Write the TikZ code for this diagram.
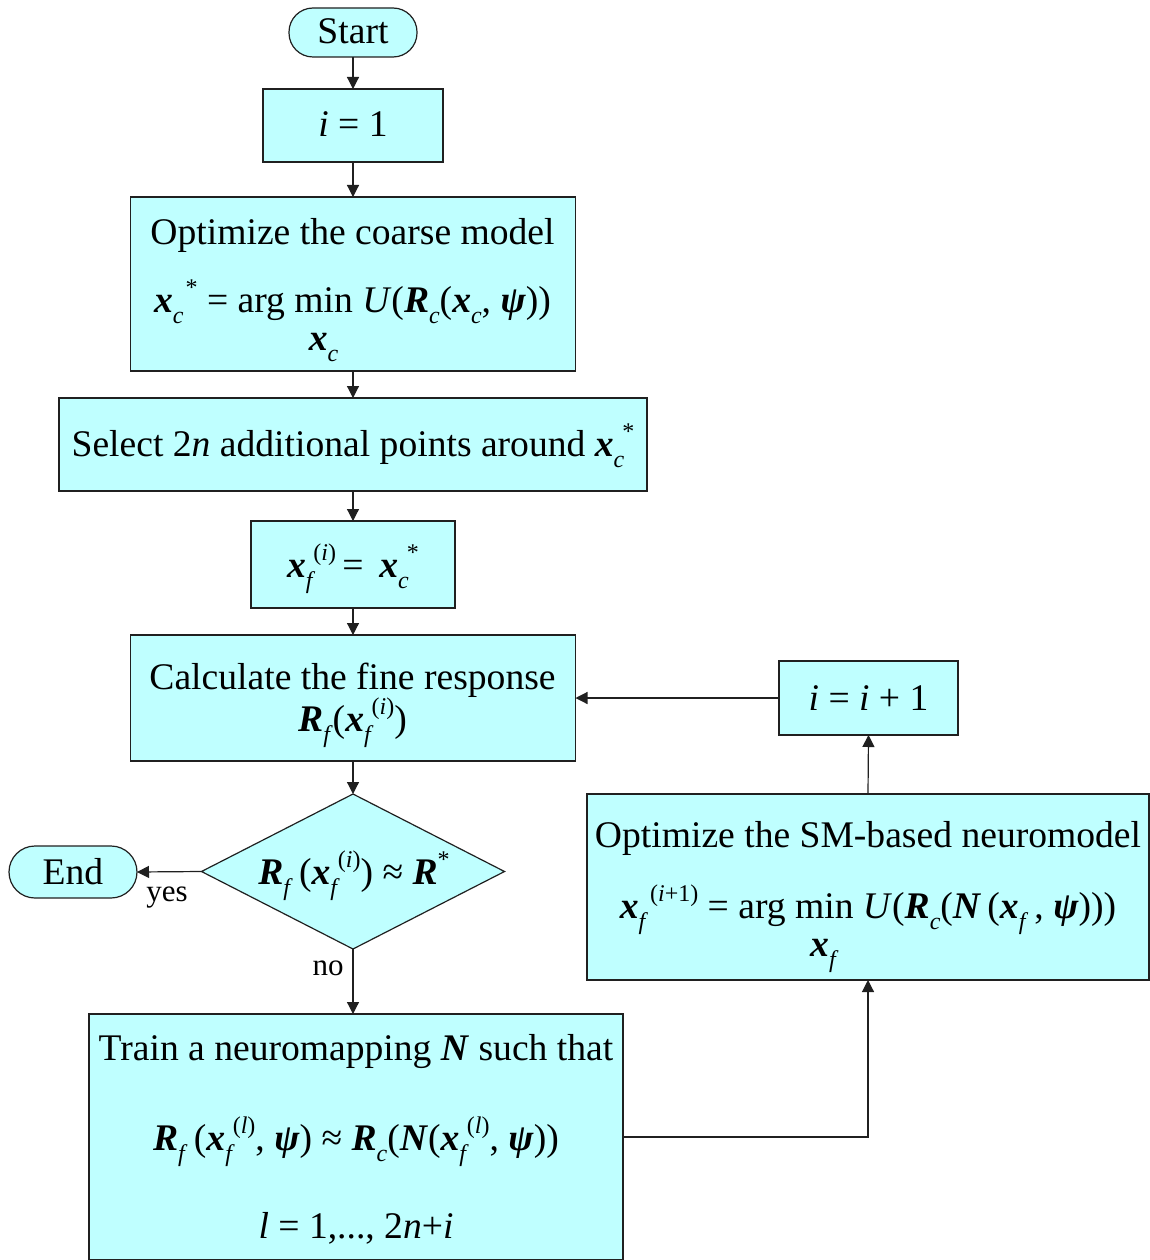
\documentclass[tikz,border=0pt]{standalone}
\usepackage{fontspec}
\setmainfont{Liberation Serif}
\usetikzlibrary{shapes.geometric,arrows.meta}
\definecolor{boxfill}{HTML}{BFFFFF}
\definecolor{edge}{HTML}{202020}
\newcommand{\bi}[1]{\textbf{\textit{#1}}}
\newcommand{\scr}{\fontsize{24}{26}\selectfont}
\newcommand{\lsb}[1]{\raisebox{-0.3em}{\scr #1}}
\newcommand{\lsp}[1]{\raisebox{0.45em}{\scr #1}}
\newcommand{\lsbsp}[2]{\lsb{#1}\kern-0.05em\lsp{#2}}
\newcommand{\argmin}[1]{\begin{tabular}[t]{@{}c@{}}min\\[-7pt]#1\end{tabular}}
\tikzset{
  box/.style={draw=edge, fill=boxfill, line width=1.2pt, inner sep=0pt, outer sep=0pt},
  pill/.style={box, rounded corners=24pt},
  txt/.style={anchor=base, inner sep=0pt, font=\fontsize{37.6}{45}\selectfont},
  lbl/.style={anchor=base, inner sep=0pt, font=\fontsize{31}{36}\selectfont},
  arr/.style={draw=edge, line width=1.2pt, -{Triangle[length=12pt,width=12pt]}},
}
\begin{document}
\begin{tikzpicture}[x=1pt,y=-1pt]
\useasboundingbox (0,0) rectangle (1149,1260);
% shapes
\node[pill, minimum width=128pt, minimum height=49pt] (start) at (353,32.5) {};
\node[box, minimum width=180pt, minimum height=73pt] (i1) at (353,125.5) {};
\node[box, minimum width=445pt, minimum height=174pt] (coarse) at (353,284) {};
\node[box, minimum width=588pt, minimum height=93pt] (select) at (353,444.5) {};
\node[box, minimum width=204pt, minimum height=87pt] (xf) at (353,564.5) {};
\node[box, minimum width=445pt, minimum height=126pt] (calc) at (353,698) {};
\node[box, shape=diamond, minimum width=303pt, minimum height=155pt] (dia) at (353,871.5) {};
\node[pill, minimum width=128pt, minimum height=52pt, rounded corners=26pt] (end) at (73,872) {};
\node[box, minimum width=179pt, minimum height=74pt] (inc) at (868.5,698) {};
\node[box, minimum width=562pt, minimum height=186pt] (sm) at (868,887) {};
\node[box, minimum width=534pt, minimum height=246pt] (train) at (356,1137) {};
% texts
\node[txt] (tstart) at (353,44) {Start};
\node[txt] (ti1) at (353,137) {\textit{i} = 1};
\node[txt] (tc1) at (352.5,244) {Optimize the coarse model};
\node[txt] (tc2) at (352.5,312) {\bi{x}\lsbsp{\textit{c}}{\,*} = arg \argmin{\bi{x}\lsb{\textit{c}}} \textit{U}(\bi{R}\lsb{\textit{c}}(\bi{x}\lsb{\textit{c}}, \bi{ψ}))};
\node[txt] (tsel) at (353,456) {Select 2\textit{n} additional points around \bi{x}\lsbsp{\textit{c}}{*}};
\node[txt] (txf) at (353,577) {\bi{x}\lsbsp{\textit{f}}{(\textit{i})}\,=\, \bi{x}\lsbsp{\textit{c}}{*}};
\node[txt] (tcal1) at (352.5,689) {Calculate the fine response};
\node[txt] (tcal2) at (352.5,731) {\bi{R}\lsb{\textit{f}}(\bi{x}\lsbsp{\textit{f}}{(\textit{i})})};
\node[txt] (tdia) at (354,884) {\bi{R}\lsb{\textit{f}}\,(\bi{x}\lsbsp{\textit{f}}{(\textit{i})}) ≈ \bi{R}\lsp{*}};
\node[txt] (tend) at (73,884) {End};
\node[txt] (tinc) at (868.5,710) {\textit{i} = \textit{i} + 1};
\node[txt] (tsm1) at (868,847) {Optimize the SM-based neuromodel};
\node[txt] (tsm2) at (868,918) {\bi{x}\lsbsp{\textit{f}}{\,(\textit{i}+1)} = arg \argmin{\bi{x}\lsb{\textit{f}}} \textit{U}(\bi{R}\lsb{\textit{c}}(\bi{N}\,(\bi{x}\lsb{\textit{f}}\,, \bi{ψ})))};
\node[txt] (ttr1) at (356,1060) {Train a neuromapping \bi{N} such that};
\node[txt] (ttr2) at (356,1150) {\bi{R}\lsb{\textit{f}}\,(\bi{x}\lsbsp{\textit{f}}{(\textit{l})}, \bi{ψ}) ≈ \bi{R}\lsb{\textit{c}}(\bi{N}(\bi{x}\lsbsp{\textit{f}}{(\textit{l})}, \bi{ψ}))};
\node[txt] (ttr3) at (356,1238) {\textit{l} = 1,..., 2\textit{n}+\textit{i}};
% connectors
\draw[arr] (start.south) -- (i1.north);
\draw[arr] (i1.south) -- (coarse.north);
\draw[arr] (coarse.south) -- (select.north);
\draw[arr] (select.south) -- (xf.north);
\draw[arr] (xf.south) -- (calc.north);
\draw[arr] (calc.south) -- (dia.north);
\draw[arr] (dia.west) -- (end.east);
\draw[arr] (dia.south) -- (dia.south |- train.north);
\draw[arr] (train.east) -| (sm.south);
\draw[arr] (sm.north) -- (inc.south);
\draw[arr] (inc.west) -- (calc.east);
\node[lbl] (yes) at (167,901) {yes};
\node[lbl] (no) at (328,975) {no};
\end{tikzpicture}
\end{document}
